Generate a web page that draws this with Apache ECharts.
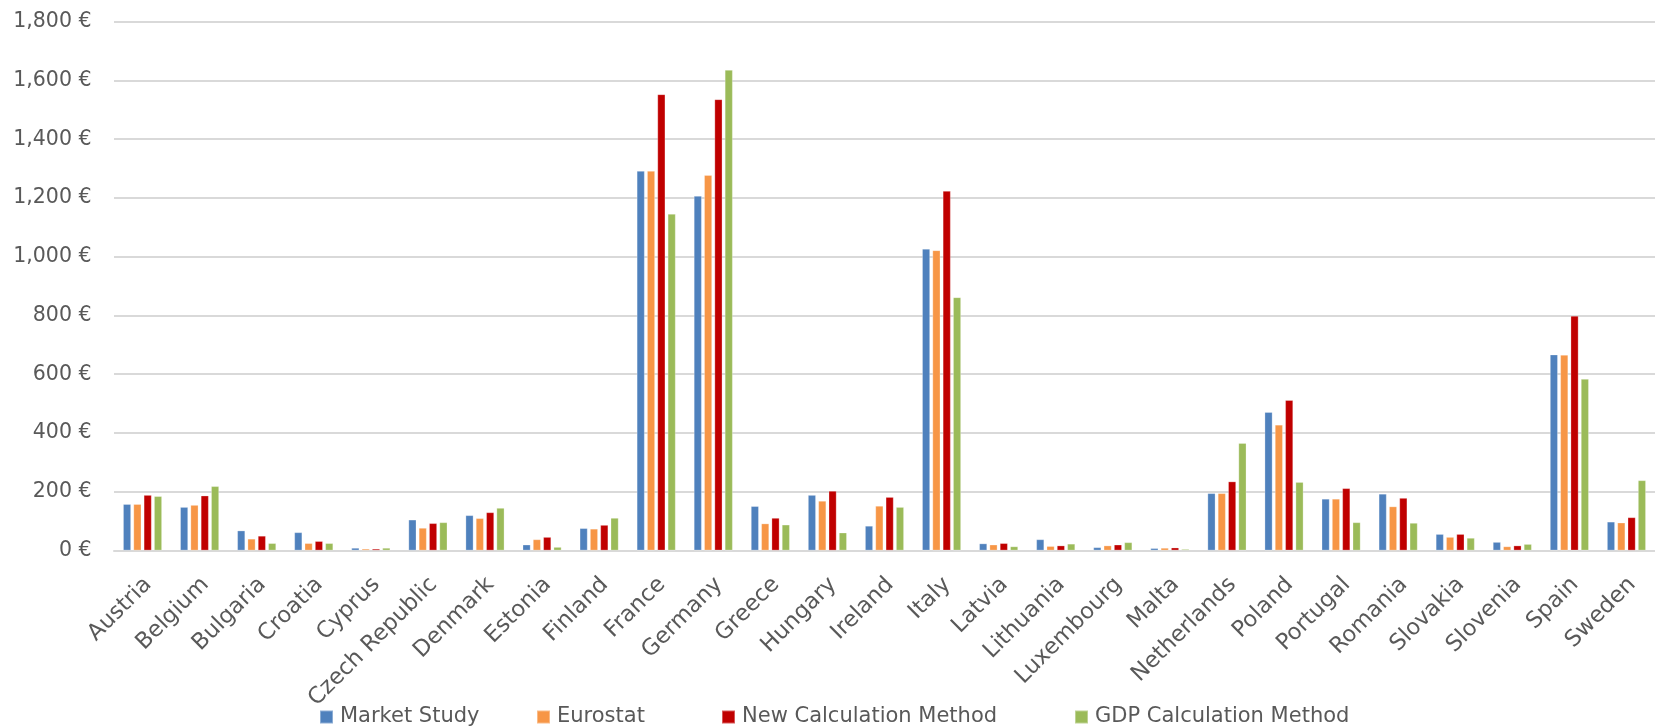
<!DOCTYPE html>
<html>
<head>
<meta charset="utf-8">
<title>Estimates by country and method</title>
<script src="https://cdn.jsdelivr.net/npm/echarts@6/dist/echarts.min.js"></script>
<style>
  html, body { margin: 0; padding: 0; background: #ffffff; }
  #chart { width: 1655px; height: 728px; }
</style>
</head>
<body>
<div id="chart"></div>
<script>
// Countries along the category axis
const countries = ['Austria', 'Belgium', 'Bulgaria', 'Croatia', 'Cyprus', 'Czech Republic', 'Denmark',
  'Estonia', 'Finland', 'France', 'Germany', 'Greece', 'Hungary', 'Ireland', 'Italy', 'Latvia',
  'Lithuania', 'Luxembourg', 'Malta', 'Netherlands', 'Poland', 'Portugal', 'Romania', 'Slovakia',
  'Slovenia', 'Spain', 'Sweden'];

// Values in euros, one entry per country
const marketStudy = [158, 148, 68, 62, 9, 105, 120, 20, 76, 1292, 1207, 151, 189, 84, 1027, 24, 38, 11, 8, 195, 471, 176, 193, 56, 29, 667, 98];
const eurostat = [158, 155, 40, 25, 6, 77, 110, 38, 74, 1292, 1278, 92, 169, 152, 1022, 20, 15, 17, 9, 195, 428, 176, 150, 46, 14, 666, 95];
const newCalculation = [189, 187, 50, 32, 6, 93, 130, 46, 87, 1553, 1536, 111, 203, 182, 1224, 25, 17, 20, 10, 235, 512, 212, 179, 56, 17, 799, 113];
const gdpCalculation = [185, 219, 25, 25, 9, 96, 145, 12, 111, 1146, 1636, 88, 61, 148, 862, 14, 23, 28, 5, 366, 233, 96, 94, 43, 22, 584, 239];

// Value axis ticks
const yTicks = { min: 0, max: 1800, interval: 200 };

const seriesNames = ['Market Study', 'Eurostat', 'New Calculation Method', 'GDP Calculation Method'];
const seriesData = [marketStudy, eurostat, newCalculation, gdpCalculation];
const seriesColors = ['#4F81BD', '#F79646', '#C00000', '#9BBB59'];

// Left edge of each legend entry
const legendLefts = [319, 536, 721, 1074];

const FONT = 'DejaVu Sans';
const TEXT_COLOR = '#595959';
const GRID_COLOR = '#D9D9D9';

const chart = echarts.init(document.getElementById('chart'), null, { renderer: 'canvas' });

chart.setOption({
  animation: false,
  textStyle: { fontFamily: FONT },
  grid: { left: 114, right: 0, top: 21.7, bottom: 177.5, containLabel: false },
  legend: seriesNames.map((name, i) => ({
    data: [name],
    left: legendLefts[i],
    top: 706.5,
    padding: 0,
    icon: 'rect',
    itemWidth: 13,
    itemHeight: 13,
    textStyle: { fontFamily: FONT, fontSize: 21, color: TEXT_COLOR, padding: [0, 0, 0, 2] }
  })),
  xAxis: {
    type: 'category',
    data: countries,
    axisTick: { show: false },
    axisLine: { lineStyle: { color: GRID_COLOR, width: 2 } },
    axisLabel: {
      interval: 0,
      rotate: 45,
      margin: 25,
      verticalAlign: 'top',
      lineHeight: 16,
      fontFamily: FONT,
      fontSize: 22.5,
      color: TEXT_COLOR
    }
  },
  yAxis: {
    type: 'value',
    min: yTicks.min,
    max: yTicks.max,
    interval: yTicks.interval,
    axisLine: { show: false },
    axisTick: { show: false },
    splitLine: { lineStyle: { color: GRID_COLOR, width: 2 } },
    axisLabel: {
      margin: 22.5,
      fontFamily: FONT,
      fontSize: 20.5,
      color: TEXT_COLOR,
      formatter: v => v.toLocaleString('en-US') + ' €'
    }
  },
  series: seriesNames.map((name, i) => ({
    name: name,
    type: 'bar',
    data: seriesData[i],
    barWidth: 8,
    barGap: '29%',
    itemStyle: { color: seriesColors[i], borderColor: 'rgba(255,255,255,0.35)', borderWidth: 0.8 }
  }))
});
</script>
</body>
</html>
